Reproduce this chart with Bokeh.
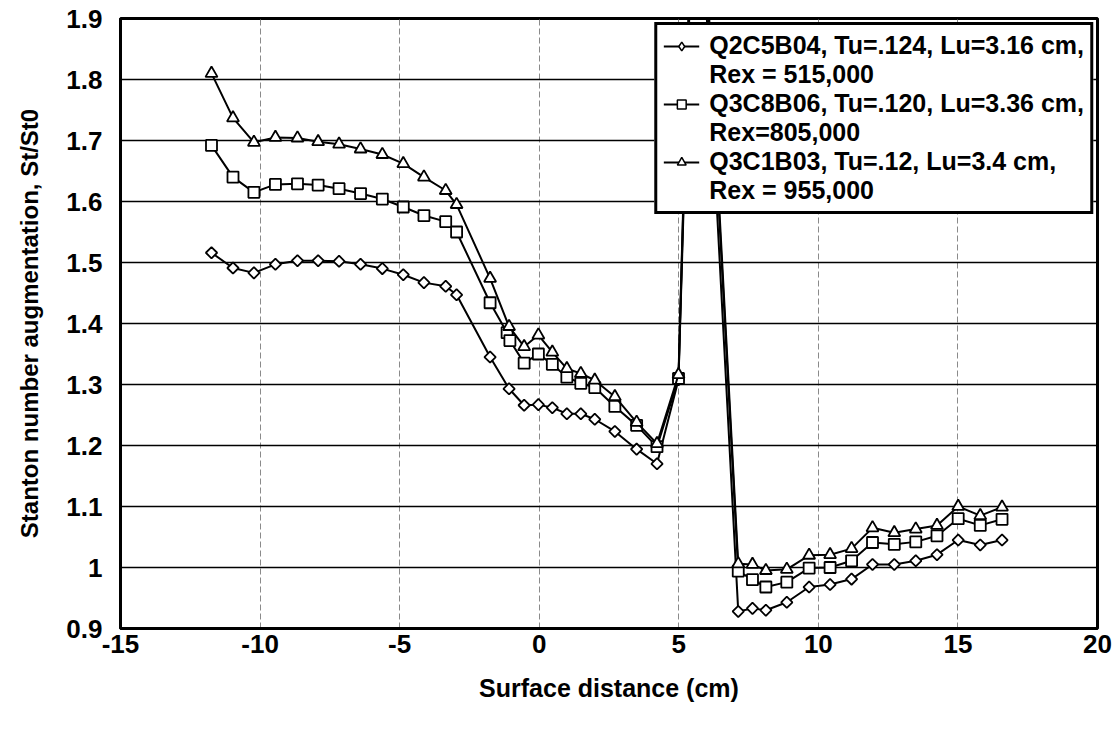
from bokeh.plotting import figure
from bokeh.models import (ColumnDataSource, FixedTicker, CustomJSTickFormatter, Legend,
                          LegendItem, Range1d)
from bokeh.embed import file_html
from bokeh.resources import INLINE

# ---------------- data ----------------
x_q2c5b04 = [-11.74, -10.97, -10.22, -9.45, -8.66, -7.92, -7.17, -6.40, -5.62, -4.87,
             -4.13, -3.35, -2.96, -1.76, -1.08, -0.54, -0.03, 0.47, 0.99, 1.49,
             1.99, 2.71, 3.49, 4.22, 4.99, 5.60, 7.13, 7.64, 8.12, 8.87,
             9.67, 10.42, 11.19, 11.94, 12.72, 13.49, 14.25, 15.01, 15.80, 16.58]
y_q2c5b04 = [1.516, 1.491, 1.483, 1.497, 1.503, 1.503, 1.502, 1.497, 1.490, 1.480,
             1.467, 1.461, 1.447, 1.345, 1.293, 1.266, 1.267, 1.262, 1.252, 1.252,
             1.243, 1.223, 1.194, 1.170, 1.308, 2.25, 0.928, 0.933, 0.930, 0.943,
             0.968, 0.972, 0.981, 1.005, 1.005, 1.011, 1.021, 1.045, 1.037, 1.045]

x_q3c8b06 = [-11.74, -10.97, -10.22, -9.45, -8.66, -7.92, -7.17, -6.40, -5.62, -4.87,
             -4.13, -3.35, -2.96, -1.76, -1.15, -1.05, -0.54, -0.03, 0.47, 0.99,
             1.49, 1.99, 2.71, 3.49, 4.22, 4.99, 5.60, 7.13, 7.64, 8.12,
             8.87, 9.67, 10.42, 11.19, 11.94, 12.72, 13.49, 14.25, 15.01, 15.80, 16.58]
y_q3c8b06 = [1.692, 1.640, 1.615, 1.628, 1.629, 1.627, 1.621, 1.613, 1.604, 1.591,
             1.577, 1.567, 1.550, 1.434, 1.385, 1.372, 1.335, 1.350, 1.333, 1.312,
             1.302, 1.295, 1.264, 1.233, 1.198, 1.310, 2.30, 0.994, 0.980, 0.968,
             0.976, 0.999, 1.000, 1.011, 1.041, 1.038, 1.042, 1.052, 1.080, 1.069, 1.079]

x_q3c1b03 = [-11.74, -10.97, -10.22, -9.45, -8.66, -7.92, -7.17, -6.40, -5.62, -4.87,
             -4.13, -3.35, -2.96, -1.76, -1.08, -0.54, -0.03, 0.47, 0.99, 1.49,
             1.99, 2.71, 3.49, 4.22, 4.99, 5.60, 7.13, 7.64, 8.12, 8.87,
             9.67, 10.42, 11.19, 11.94, 12.72, 13.49, 14.25, 15.01, 15.80, 16.58]
y_q3c1b03 = [1.810, 1.737, 1.697, 1.705, 1.704, 1.698, 1.694, 1.686, 1.677, 1.662,
             1.640, 1.618, 1.595, 1.474, 1.395, 1.362, 1.381, 1.353, 1.326, 1.318,
             1.307, 1.280, 1.238, 1.203, 1.316, 2.32, 1.006, 1.005, 0.995, 0.997,
             1.020, 1.021, 1.031, 1.065, 1.057, 1.063, 1.069, 1.100, 1.085, 1.099]

legend_line1 = ["Q2C5B04, Tu=.124, Lu=3.16 cm,",
                "Q3C8B06, Tu=.120, Lu=3.36 cm,",
                "Q3C1B03, Tu=.12, Lu=3.4 cm,"]
legend_line2 = ["Rex = 515,000", "Rex=805,000", "Rex = 955,000"]

x_ticks = [-15, -10, -5, 0, 5, 10, 15, 20]
x_tick_labels = ["-15", "-10", "-5", "0", "5", "10", "15", "20"]
y_ticks = [0.9, 1.0, 1.1, 1.2, 1.3, 1.4, 1.5, 1.6, 1.7, 1.8, 1.9]
y_tick_labels = ["0.9", "1", "1.1", "1.2", "1.3", "1.4", "1.5", "1.6", "1.7", "1.8", "1.9"]

x_title = "Surface distance (cm)"
y_title = "Stanton number augmentation, St/St0"

FONT = "Liberation Sans"

# ---------------- figure ----------------
p = figure(width=1119, height=732, output_backend="svg", toolbar_location=None,
           x_range=Range1d(-15, 20), y_range=Range1d(0.9, 1.9),
           min_border_left=120, min_border_right=22, min_border_top=18,
           min_border_bottom=104)
p.background_fill_color = "white"
p.border_fill_color = "white"
p.outline_line_color = "black"
p.outline_line_width = 3

FMT = "const i = tv.findIndex(t => Math.abs(t - tick) < 1e-9); return i >= 0 ? tl[i] : '';"
p.xaxis.ticker = FixedTicker(ticks=x_ticks)
p.xaxis.formatter = CustomJSTickFormatter(args=dict(tv=x_ticks, tl=x_tick_labels), code=FMT)
p.yaxis.ticker = FixedTicker(ticks=y_ticks)
p.yaxis.formatter = CustomJSTickFormatter(args=dict(tv=y_ticks, tl=y_tick_labels), code=FMT)

for ax in (p.xaxis[0], p.yaxis[0]):
    ax.axis_line_color = "black"
    ax.axis_line_width = 3
    ax.major_tick_in = 0
    ax.major_tick_out = 0
    ax.minor_tick_in = 0
    ax.minor_tick_out = 0
    ax.major_label_text_font = FONT
    ax.major_label_text_font_style = "bold"
    ax.major_label_text_font_size = "26px"
    ax.major_label_text_color = "black"
    ax.axis_label_text_font = FONT
    ax.axis_label_text_font_style = "bold"
    ax.axis_label_text_color = "black"

p.xaxis.axis_label = x_title
p.yaxis.axis_label = y_title
p.xaxis.axis_label_text_font_size = "25px"
p.yaxis.axis_label_text_font_size = "24px"
p.xaxis.major_label_standoff = 6
p.xaxis.axis_label_standoff = 18
p.yaxis.major_label_standoff = 18
p.yaxis.axis_label_standoff = 20

p.ygrid.grid_line_color = "black"
p.ygrid.grid_line_width = 1.5
p.ygrid.ticker = FixedTicker(ticks=y_ticks)
p.xgrid.grid_line_color = "#8a8a8a"
p.xgrid.grid_line_width = 1
p.xgrid.grid_line_dash = "6 3"
p.xgrid.ticker = FixedTicker(ticks=x_ticks)

# ---------------- series ----------------
# (x, y, marker drawn on data, size, angle, marker shown in legend)
series = [
    (x_q2c5b04, y_q2c5b04, "square", 8, 0.785398, "diamond"),
    (x_q3c8b06, y_q3c8b06, "square", 11, 0.0, "square"),
    (x_q3c1b03, y_q3c1b03, "triangle", 12, 0.0, "triangle"),
]
items = []
blank = None
for (xs, ys, marker, size, ang, lmarker), l1, l2 in zip(series, legend_line1, legend_line2):
    src = ColumnDataSource(dict(x=xs, y=ys))
    if blank is None:
        # renderer with no visible stroke, used only for the second text line of each entry
        blank = p.line("x", "y", source=src, line_alpha=0)
    lr = p.line("x", "y", source=src, line_color="black", line_width=2)
    p.scatter("x", "y", source=src, marker=marker, size=size, angle=ang,
              fill_color="white", line_color="black", line_width=1.8)
    # hidden renderer used only to draw the legend icon
    icon = p.scatter("x", "y", source=src, marker=lmarker, visible=False,
                     fill_color="white", line_color="black", line_width=1.5)
    items.append(LegendItem(label=l1, renderers=[lr, icon]))
    items.append(LegendItem(label=l2, renderers=[blank]))

legend = Legend(items=items, location="top_right", margin=4, padding=6, spacing=0,
                glyph_width=36, glyph_height=22, label_standoff=10, label_height=26,
                border_line_color="black", border_line_width=3, border_line_alpha=1.0,
                background_fill_color="white", background_fill_alpha=1.0,
                label_text_font=FONT, label_text_font_style="bold",
                label_text_font_size="25px", label_text_color="black")
p.add_layout(legend)

open("out.html", "w").write(file_html(p, INLINE))
